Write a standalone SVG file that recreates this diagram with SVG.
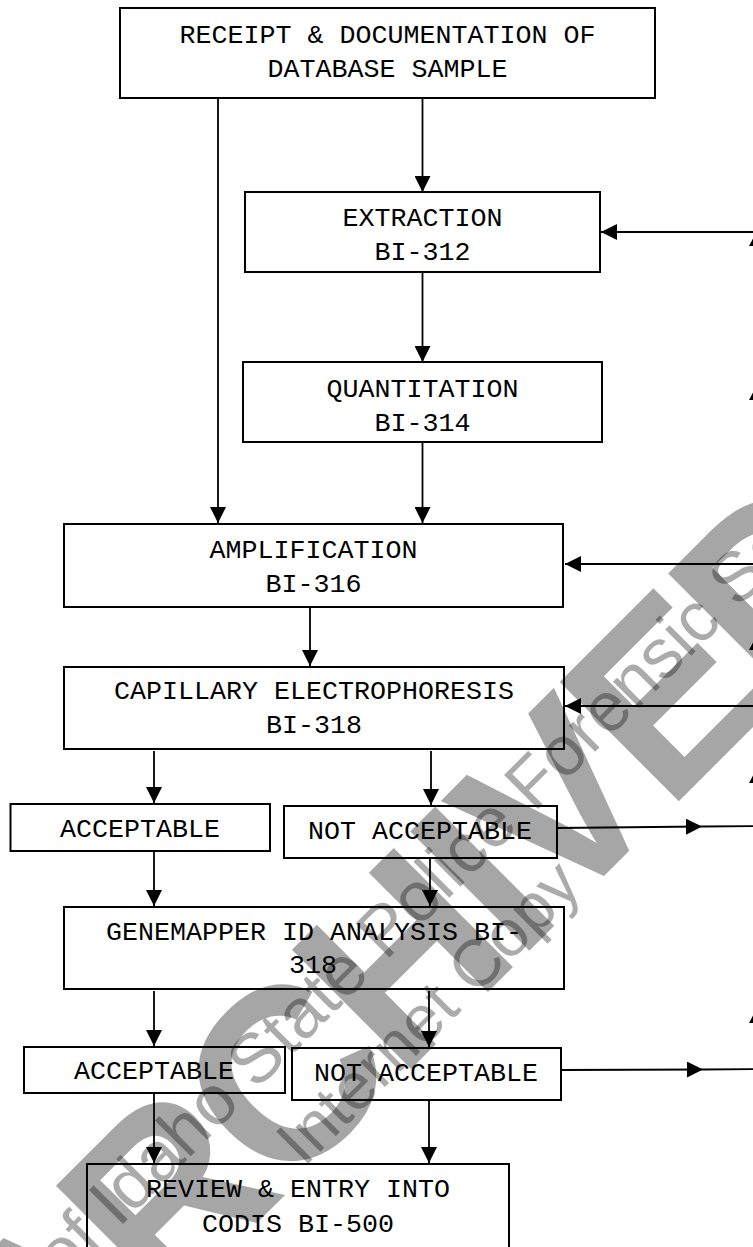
<svg xmlns="http://www.w3.org/2000/svg" width="753" height="1247" viewBox="0 0 753 1247">
<defs>
<style>
.box{fill:none;stroke:#000;stroke-width:2}
.t{font-family:"Liberation Mono","Courier New",monospace;font-size:26.67px;fill:#000;text-anchor:middle}
.c{stroke:#000;stroke-width:1.8;fill:none}
.wm{font-family:"Liberation Sans",Arial,sans-serif;fill:#000}
</style>
<marker id="ah" markerWidth="16" markerHeight="16" viewBox="0 0 16 16" refX="16" refY="8" orient="auto" markerUnits="userSpaceOnUse">
<path d="M0,0 L16,8 L0,16 Z" fill="#000"/>
</marker>
</defs>
<rect width="753" height="1247" fill="#fff"/>

<g id="connectors">
<line class="c" x1="218" y1="99" x2="218" y2="523" marker-end="url(#ah)"/>
<line class="c" x1="422.5" y1="99" x2="422.5" y2="192" marker-end="url(#ah)"/>
<line class="c" x1="422.5" y1="272" x2="422.5" y2="362" marker-end="url(#ah)"/>
<line class="c" x1="422.5" y1="442" x2="422.5" y2="523" marker-end="url(#ah)"/>
<line class="c" x1="310" y1="607" x2="310" y2="666" marker-end="url(#ah)"/>
<line class="c" x1="154" y1="751" x2="154" y2="803" marker-end="url(#ah)"/>
<line class="c" x1="431" y1="751" x2="431" y2="805" marker-end="url(#ah)"/>
<line class="c" x1="154" y1="851" x2="154" y2="906" marker-end="url(#ah)"/>
<line class="c" x1="430" y1="858" x2="430" y2="906" marker-end="url(#ah)"/>
<line class="c" x1="154" y1="991" x2="154" y2="1046" marker-end="url(#ah)"/>
<line class="c" x1="429" y1="991" x2="429" y2="1047" marker-end="url(#ah)"/>
<line class="c" x1="154" y1="1094" x2="154" y2="1163" marker-end="url(#ah)"/>
<line class="c" x1="429" y1="1100" x2="429" y2="1163" marker-end="url(#ah)"/>
<line class="c" x1="760" y1="232" x2="601" y2="232" marker-end="url(#ah)"/>
<line class="c" x1="760" y1="564" x2="565" y2="564" marker-end="url(#ah)"/>
<line class="c" x1="760" y1="706" x2="565" y2="706" marker-end="url(#ah)"/>
<line class="c" x1="557" y1="828" x2="702" y2="826.5" marker-end="url(#ah)"/>
<line class="c" x1="702" y1="826.5" x2="760" y2="826"/>
<line class="c" x1="561" y1="1070" x2="703" y2="1069.5" marker-end="url(#ah)"/>
<line class="c" x1="703" y1="1069.5" x2="760" y2="1069"/>
<path d="M757,231 L765,246 L749,246 Z M757,385 L765,400 L749,400 Z M757,635 L765,650 L749,650 Z M757,768 L765,783 L749,783 Z M757,1008 L765,1023 L749,1023 Z" fill="#000"/>
</g>

<g id="receipt"><rect class="box" x="120" y="8" width="535" height="90"/>
<text class="t" x="387.5" y="43">RECEIPT &amp; DOCUMENTATION OF</text>
<text class="t" x="387.5" y="77">DATABASE SAMPLE</text></g>

<g id="extraction"><rect class="box" x="245" y="192" width="355" height="80"/>
<text class="t" x="422.5" y="226">EXTRACTION</text>
<text class="t" x="422.5" y="260">BI-312</text></g>

<g id="quantitation"><rect class="box" x="243" y="362" width="359" height="80"/>
<text class="t" x="422.5" y="397">QUANTITATION</text>
<text class="t" x="422.5" y="431">BI-314</text></g>

<g id="amplification"><rect class="box" x="64" y="524" width="499" height="83"/>
<text class="t" x="313.5" y="558">AMPLIFICATION</text>
<text class="t" x="313.5" y="592">BI-316</text></g>

<g id="ce"><rect class="box" x="64" y="667" width="500" height="82"/>
<text class="t" x="314" y="699">CAPILLARY ELECTROPHORESIS</text>
<text class="t" x="314" y="733">BI-318</text></g>

<g id="acceptable1"><rect class="box" x="10.5" y="804" width="259.5" height="47"/>
<text class="t" x="140" y="837">ACCEPTABLE</text></g>

<g id="notacceptable1"><rect class="box" x="284" y="806" width="273" height="52"/>
<text class="t" x="420" y="839">NOT ACCEPTABLE</text></g>

<g id="genemapper"><rect class="box" x="64" y="907" width="500" height="82"/>
<text class="t" x="314" y="940">GENEMAPPER ID ANALYSIS BI-</text>
<text class="t" x="313" y="973">318</text></g>

<g id="acceptable2"><rect class="box" x="24" y="1047" width="261" height="46"/>
<text class="t" x="154" y="1079">ACCEPTABLE</text></g>

<g id="notacceptable2"><rect class="box" x="292" y="1048" width="269" height="52"/>
<text class="t" x="426" y="1081">NOT ACCEPTABLE</text></g>

<g id="review"><rect class="box" x="87" y="1164" width="422" height="110"/>
<text class="t" x="298" y="1197">REVIEW &amp; ENTRY INTO</text>
<text class="t" x="298" y="1232">CODIS BI-500</text></g>

<g id="watermark">
<text class="wm" transform="translate(45.5,1434.5) rotate(-45)" font-size="245" font-weight="bold" letter-spacing="-10" fill-opacity="0.35">ARCHIVED</text>
<text class="wm" transform="translate(395,952) rotate(-45)" font-size="70" text-anchor="middle" fill-opacity="0.33">Property of Idaho State Police Forensic Services</text>
<text class="wm" transform="translate(444,1028) rotate(-45)" font-size="66" text-anchor="middle" fill-opacity="0.33">Internet Copy</text>
</g>
</svg>
